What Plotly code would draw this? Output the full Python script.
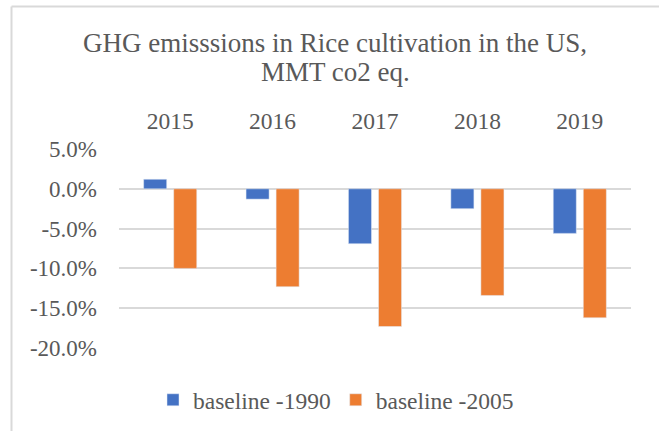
import plotly.graph_objects as go

years = ["2015", "2016", "2017", "2018", "2019"]
baseline_1990 = [1.2, -1.3, -6.9, -2.5, -5.6]
baseline_2005 = [-10.0, -12.3, -17.3, -13.4, -16.2]
series_names = ["baseline -1990", "baseline -2005"]
tick_vals = [5, 0, -5, -10, -15, -20]
tick_text = ["5.0%", "0.0%", "-5.0%", "-10.0%", "-15.0%", "-20.0%"]
title_line1 = "GHG emisssions in Rice cultivation in the US,"
title_line2 = "MMT co2 eq."

W, H = 659, 431
L, R, T, B = 119, 28, 149, 83
pw, ph = W - L - R, H - T - B

def px_x(x):
    return (x - L) / pw

def px_y(y):
    return (H - B - y) / ph

FONT = "Liberation Serif"
GRAY = "#595959"

fig = go.Figure()
fig.add_trace(go.Bar(x=years, y=baseline_1990, name=series_names[0], marker_color="#4472C4"))
fig.add_trace(go.Bar(x=years, y=baseline_2005, name=series_names[1], marker_color="#ED7D31"))

fig.update_layout(
    width=W, height=H,
    margin=dict(l=L, r=R, t=T, b=B, pad=0, autoexpand=False),
    paper_bgcolor="white", plot_bgcolor="white",
    barmode="group", bargap=0.413, bargroupgap=0.233,
    font=dict(family=FONT, color=GRAY, size=23),
    title=dict(
        text=title_line1,
        x=335 / W, xref="container", xanchor="center",
        y=1 - 42.5 / H, yref="container", yanchor="middle",
        font=dict(family=FONT, size=27, color=GRAY),
    ),
    annotations=[
        dict(text=title_line2, xref="paper", yref="paper",
             x=px_x(335), y=px_y(72.5), xanchor="center", yanchor="middle",
             showarrow=False, font=dict(family=FONT, size=27, color=GRAY)),
    ],
    xaxis=dict(side="top", showgrid=False, showline=False, ticks="", automargin=False,
               tickfont=dict(family=FONT, size=23.5, color=GRAY), ticklabelstandoff=14),
    yaxis=dict(range=[-20, 5], tickvals=tick_vals, ticktext=tick_text, automargin=False,
               showgrid=True, gridcolor="#D9D9D9", gridwidth=1.5,
               zeroline=True, zerolinecolor="#D9D9D9", zerolinewidth=1.5,
               showline=False, ticks="", ticklabelstandoff=21,
               tickfont=dict(family=FONT, size=23, color=GRAY)),
    legend=dict(orientation="h", x=px_x(153), xanchor="left",
                y=px_y(400), yanchor="middle",
                font=dict(family=FONT, size=23.5, color=GRAY), bgcolor="rgba(0,0,0,0)"),
    shapes=[
        dict(type="line", xref="paper", yref="paper",
             x0=px_x(11.5), x1=px_x(W + 5), y0=px_y(6.5), y1=px_y(6.5),
             line=dict(color="#D9D9D9", width=2)),
        dict(type="line", xref="paper", yref="paper",
             x0=px_x(11.5), x1=px_x(11.5), y0=px_y(6.5), y1=px_y(H + 5),
             line=dict(color="#D9D9D9", width=2)),
    ],
)

fig.write_html("out.html", config={"displayModeBar": False},
               post_script="document.body.style.margin='0';document.body.style.overflow='hidden';")
